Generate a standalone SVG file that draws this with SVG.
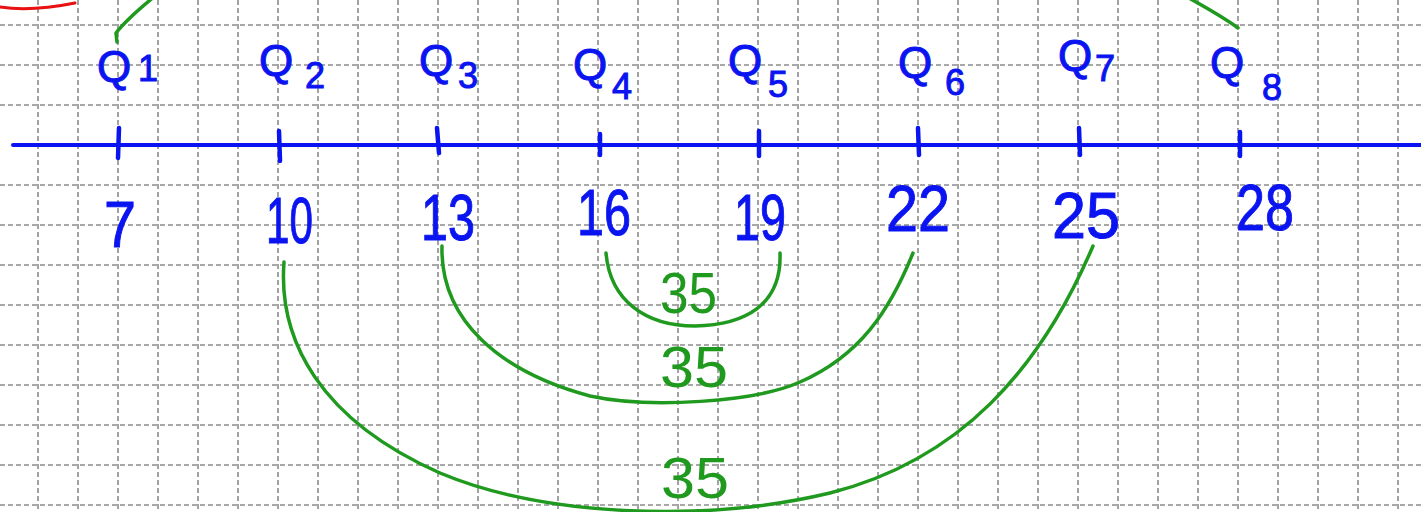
<svg xmlns="http://www.w3.org/2000/svg" width="1421" height="512" viewBox="0 0 1421 512">
<defs>
<style>
.grid{stroke:#8c8c8c;stroke-width:1.6;stroke-dasharray:5 3;fill:none}
.axis{stroke:#0a14f0;stroke-width:4;fill:none;stroke-linecap:round}
.tick{stroke:#0a14f0;stroke-width:4.5;fill:none;stroke-linecap:round}
.q{font-family:"Liberation Sans",Arial,sans-serif;font-size:44px;fill:#0a14f0;stroke:#0a14f0;stroke-width:1}
.sub{font-family:"Liberation Sans",Arial,sans-serif;font-size:36px;fill:#0a14f0;stroke:#0a14f0;stroke-width:1}
.num{font-family:"Liberation Sans",Arial,sans-serif;font-size:64px;fill:#0a14f0;stroke:#0a14f0;stroke-width:1}
.arc{stroke:#1f9a1f;stroke-width:3.5;fill:none;stroke-linecap:round;stroke-linejoin:round}
.lbl{font-family:"Liberation Sans",Arial,sans-serif;font-size:58px;fill:#1f9a1f}
</style>
</defs>
<rect width="1421" height="512" fill="#ffffff"/>
<g id="grid">
<path class="grid" d="M38 0V512M78 0V512M118 0V512M158 0V512M198 0V512M238 0V512M278 0V512M318 0V512M358 0V512M398 0V512M438 0V512M478 0V512M518 0V512M558 0V512M598 0V512M638 0V512M678 0V512M718 0V512M758 0V512M798 0V512M838 0V512M878 0V512M918 0V512M958 0V512M998 0V512M1038 0V512M1078 0V512M1118 0V512M1158 0V512M1198 0V512M1238 0V512M1278 0V512M1318 0V512M1358 0V512M1398 0V512"/>
<path class="grid" d="M0 25H1421M0 65H1421M0 105H1421M0 185H1421M0 225H1421M0 265H1421M0 305H1421M0 345H1421M0 385H1421M0 425H1421M0 465H1421M0 505H1421"/>
</g>
<path id="red-mark" d="M0 7 C 20 10, 45 9, 75 3" stroke="#e81010" stroke-width="3" fill="none" stroke-linecap="round"/>
<g id="axis">
<path class="axis" d="M13 145H1421"/>
<path class="tick" d="M119 128L118 158M279 131L280 161M437 128L439 153M600 134L600 155M759 131L759 156M918 128L919 155M1079 128L1080 155M1240 132L1240 156"/>
</g>
<g id="q-labels">
<g id="q1"><text class="q" x="97" y="82">Q</text><text class="sub" x="138" y="81">1</text></g>
<g id="q2"><text class="q" x="259" y="76">Q</text><text class="sub" x="305" y="88">2</text></g>
<g id="q3"><text class="q" x="419" y="76">Q</text><text class="sub" x="458" y="88">3</text></g>
<g id="q4"><text class="q" x="573" y="80">Q</text><text class="sub" x="612" y="99">4</text></g>
<g id="q5"><text class="q" x="728" y="76">Q</text><text class="sub" x="768" y="97">5</text></g>
<g id="q6"><text class="q" x="898" y="78">Q</text><text class="sub" x="945" y="95">6</text></g>
<g id="q7"><text class="q" x="1058" y="71">Q</text><text class="sub" x="1095" y="81">7</text></g>
<g id="q8"><text class="q" x="1210" y="78">Q</text><text class="sub" x="1262" y="100">8</text></g>
</g>
<g id="numbers">
<text id="n7" class="num" x="104" y="247" textLength="32" lengthAdjust="spacingAndGlyphs">7</text>
<text id="n10" class="num" x="266" y="243" textLength="47" lengthAdjust="spacingAndGlyphs">10</text>
<text id="n13" class="num" x="421" y="240" textLength="54" lengthAdjust="spacingAndGlyphs">13</text>
<text id="n16" class="num" x="577" y="235" textLength="54" lengthAdjust="spacingAndGlyphs">16</text>
<text id="n19" class="num" x="734" y="240" textLength="52" lengthAdjust="spacingAndGlyphs">19</text>
<text id="n22" class="num" x="886" y="231" textLength="64" lengthAdjust="spacingAndGlyphs">22</text>
<text id="n25" class="num" x="1052" y="238" textLength="68" lengthAdjust="spacingAndGlyphs">25</text>
<text id="n28" class="num" x="1236" y="230" textLength="58" lengthAdjust="spacingAndGlyphs">28</text>
</g>
<g id="connectors">
<path class="arc" d="M117 42 L116 33 C 126 20, 140 8, 160 -8"/>
<path class="arc" d="M1238 28 C 1222 16, 1200 4, 1178 -8"/>
<path class="arc" d="M606 253 C 610 300, 645 326, 695 326 C 745 325, 782 305, 780 253"/>
<path class="arc" d="M442 246 C 440 320, 500 372, 590 396 C 650 409, 755 402, 800 382 C 860 356, 890 310, 913 253"/>
<path class="arc" d="M284 262 C 278 340, 320 420, 440 473 C 540 515, 700 524, 830 493 C 960 460, 1040 370, 1093 246"/>
</g>
<g id="arc-labels">
<text class="lbl" x="660" y="313" textLength="57" lengthAdjust="spacingAndGlyphs">35</text>
<text class="lbl" x="660" y="387" textLength="68" lengthAdjust="spacingAndGlyphs">35</text>
<text class="lbl" x="661" y="498" textLength="68" lengthAdjust="spacingAndGlyphs">35</text>
</g>
</svg>
